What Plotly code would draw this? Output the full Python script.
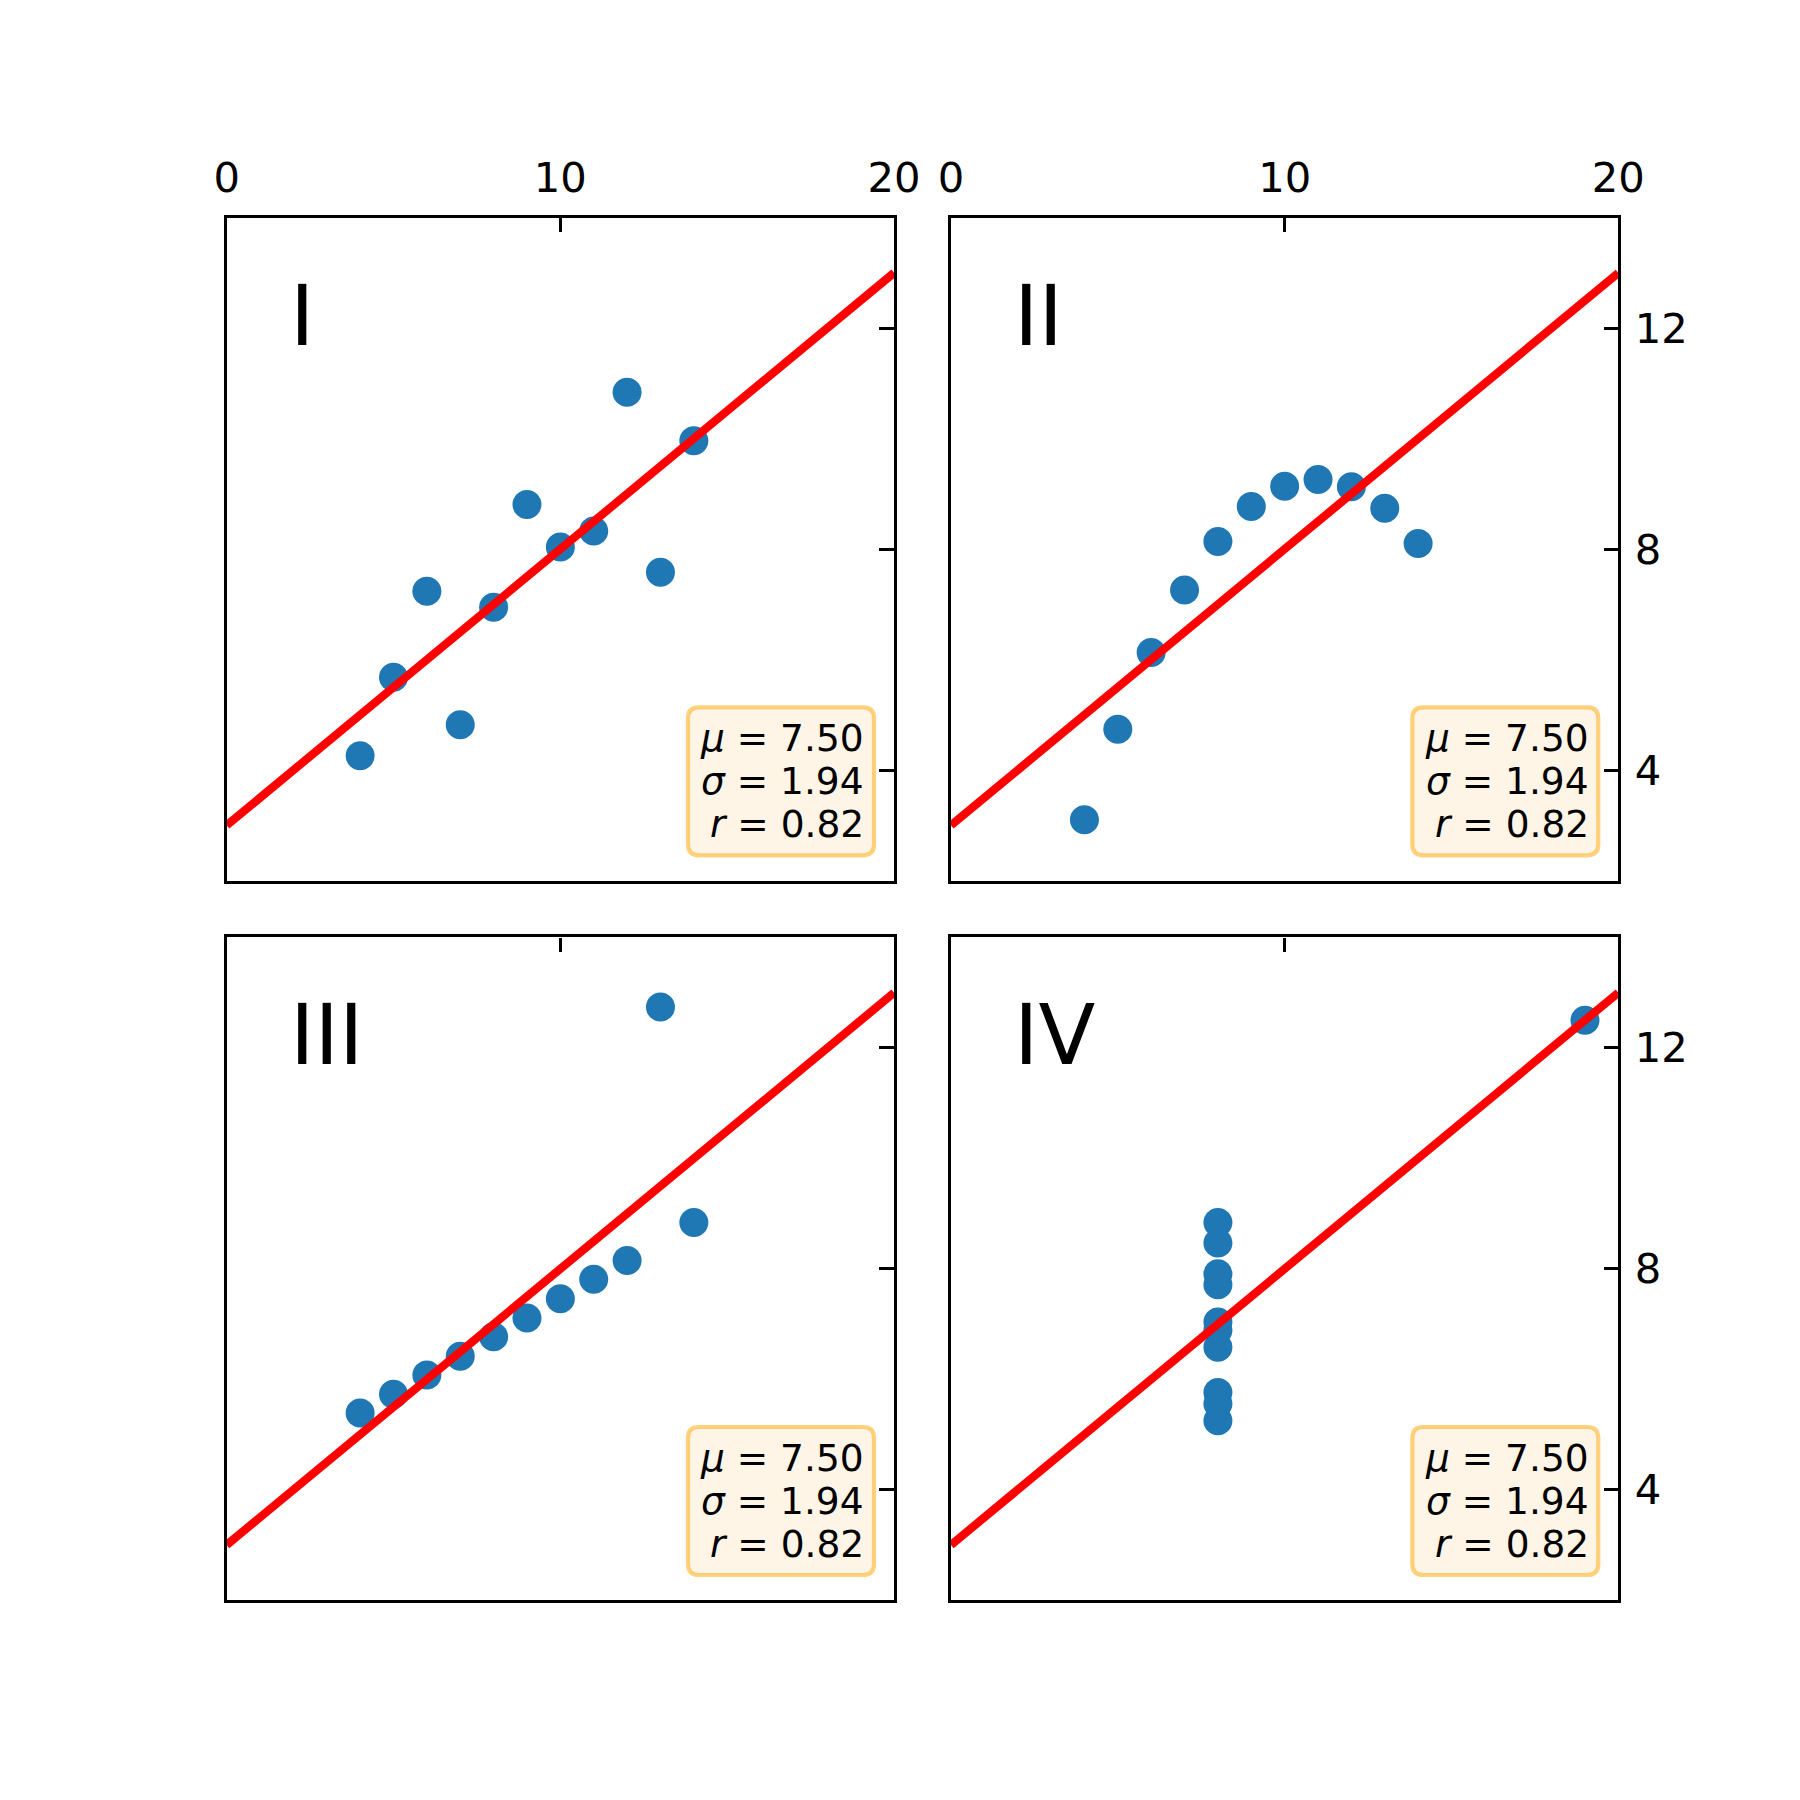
import numpy as np
import plotly.graph_objects as go

# Anscombe's quartet
x = [10, 8, 13, 9, 11, 14, 6, 4, 12, 7, 5]
y1 = [8.04, 6.95, 7.58, 8.81, 8.33, 9.96, 7.24, 4.26, 10.84, 4.82, 5.68]
y2 = [9.14, 8.14, 8.74, 8.77, 9.26, 8.10, 6.13, 3.10, 9.13, 7.26, 4.74]
y3 = [7.46, 6.77, 12.74, 7.11, 7.81, 8.84, 6.08, 5.39, 8.15, 6.42, 5.73]
x4 = [8, 8, 8, 8, 8, 8, 8, 19, 8, 8, 8]
y4 = [6.58, 5.76, 7.71, 8.84, 8.47, 7.04, 5.25, 12.50, 5.56, 7.91, 6.89]

labels = ["I", "II", "III", "IV"]
xs_list = [x, x, x, x4]
ys_list = [y1, y2, y3, y4]

x_range = [0, 20]
y_range = [2, 14]
x_ticks = [0, 10, 20]
y_ticks = [4, 8, 12]

OFF = 8          # page body margin
S = 1784         # figure size in px
FONT = "DejaVu Sans"
LW = 3.3


def px(v):
    return (v - OFF) / S


def py(v):
    return 1 - (v - OFF) / S


# target screen pixel positions of the axes
cols = [(225.0, 895.7), (949.3, 1620.0)]
rows = [(216.0, 882.3), (935.7, 1602.0)]

fig = go.Figure()
annotations = []
shapes = []
layout_axes = {}

for i, (lab, xs, ys) in enumerate(zip(labels, xs_list, ys_list)):
    r, c = divmod(i, 2)
    left, right = cols[c]
    top, bottom = rows[r]
    w = right - left
    h = bottom - top
    suf = "" if i == 0 else str(i + 1)
    xa, ya = "x" + suf, "y" + suf

    fig.add_trace(go.Scatter(
        x=xs, y=ys, mode="markers", xaxis=xa, yaxis=ya,
        marker=dict(color="#1f77b4", size=29, line=dict(width=0)),
        showlegend=False, hoverinfo="skip"))

    p1, p0 = np.polyfit(xs, ys, 1)
    lx = np.array(x_range, dtype=float)
    fig.add_trace(go.Scatter(
        x=lx, y=p0 + p1 * lx, mode="lines", xaxis=xa, yaxis=ya,
        line=dict(color="#ff0000", width=8.3),
        showlegend=False, hoverinfo="skip"))

    common = dict(showgrid=False, zeroline=False, showline=True, linecolor="black",
                  linewidth=LW, mirror=True, ticks="inside", ticklen=14.6,
                  tickwidth=LW, tickcolor="black", automargin=False,
                  tickfont=dict(family=FONT, size=41.7, color="black"))
    layout_axes["xaxis" + suf] = dict(
        common, domain=[px(left + LW / 2), px(right - LW / 2)], range=x_range,
        tickvals=x_ticks, side="top", showticklabels=(r == 0), anchor=ya,
        fixedrange=True, ticklabelstandoff=6)
    layout_axes["yaxis" + suf] = dict(
        common, domain=[py(bottom - LW / 2), py(top + LW / 2)], range=y_range,
        tickvals=y_ticks, side="right", showticklabels=(c == 1), anchor=xa,
        fixedrange=True, ticklabelstandoff=5)

    # panel label
    annotations.append(dict(
        x=px(left + 0.1 * w - 4), y=py(top + 0.1 * h - 17), xref="paper", yref="paper",
        xanchor="left", yanchor="top", text=lab, showarrow=False,
        font=dict(family=FONT, size=83, color="black")))

    # stats box
    mu = np.mean(ys)
    sd = np.std(ys)
    rr = np.corrcoef(xs, ys)[0][1]
    lines = [f"<i>μ</i> = {mu:.2f}", f"<i>σ</i> = {sd:.2f}", f"<i>r</i> = {rr:.2f}"]
    bx0, bx1 = right - 207.7, right - 21.7
    by0, by1 = bottom - 175, bottom - 27
    rad = 11
    X0, X1 = px(bx0), px(bx1)
    Y0, Y1 = py(by0), py(by1)  # Y0 top (larger), Y1 bottom
    R = rad / S
    path = (f"M {X0+R},{Y0} L {X1-R},{Y0} Q {X1},{Y0} {X1},{Y0-R} "
            f"L {X1},{Y1+R} Q {X1},{Y1} {X1-R},{Y1} "
            f"L {X0+R},{Y1} Q {X0},{Y1} {X0},{Y1+R} "
            f"L {X0},{Y0-R} Q {X0},{Y0} {X0+R},{Y0} Z")
    shapes.append(dict(type="path", path=path, xref="paper", yref="paper",
                       fillcolor="rgba(255,235,205,0.5)",
                       line=dict(color="rgba(255,165,0,0.5)", width=4.2),
                       layer="above"))
    for k, (t, off) in enumerate(zip(lines, [144, 101, 58])):
        annotations.append(dict(
            x=px(right - 29.3), y=py(bottom - off), xref="paper", yref="paper",
            xanchor="right", yanchor="middle", text=t, showarrow=False,
            align="right", font=dict(family=FONT, size=37.5, color="black")))

fig.update_layout(
    template="none",
    width=S, height=S, margin=dict(l=0, r=0, t=0, b=0, autoexpand=False),
    paper_bgcolor="white", plot_bgcolor="white",
    annotations=annotations, shapes=shapes, **layout_axes)

fig.write_html("out.html")
